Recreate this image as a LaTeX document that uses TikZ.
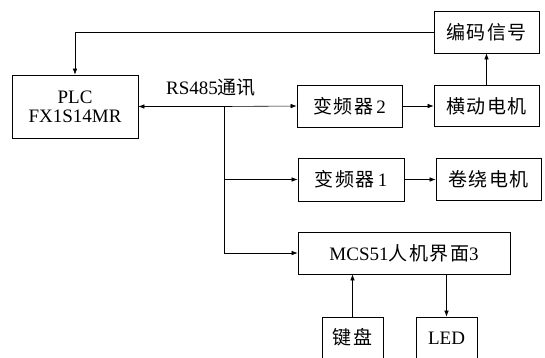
\documentclass[tikz,border=0pt]{standalone}
\usepackage{fontspec}
\setmainfont{Liberation Serif}
\newfontfamily\cjk{Noto Sans CJK SC}
\usetikzlibrary{arrows.meta}
\newcommand{\cg}{\hspace{1.5pt}}
\begin{document}
\begin{tikzpicture}[x=1pt,y=-1pt,
  box/.style={draw, line width=0.7pt, inner sep=0pt, align=center, font=\fontsize{19}{19}\selectfont},
  openbox/.style={box, minimum width=61pt, text height=27pt, text depth=30pt, anchor=base},
  conn/.style={line width=0.6pt},
  arr/.style={conn, -{Latex[length=6pt,width=4.5pt]}},
  lbl/.style={inner sep=0pt, font=\fontsize{19}{19}\selectfont}]
\path[use as bounding box, clip] (0,0) rectangle (545,357);
\fill[white] (0,0) rectangle (545,357);
% boxes
\node[box, minimum width=126pt, minimum height=63pt] (plc) at (75,106.5) {PLC\\FX1S14MR};
\node[box, minimum width=105pt, minimum height=42pt] (enc) at (486.5,32) {\cjk 编\cg 码\cg 信\cg 号};
\node[box, minimum width=105pt, minimum height=41pt] (hd) at (486.5,106) {\cjk 横\cg 动\cg 电\cg 机};
\node[box, minimum width=105pt, minimum height=42pt] (vf2) at (349.5,106) {{\cjk 变\cg 频\cg 器}\,2};
\node[box, minimum width=106pt, minimum height=43pt] (vf1) at (351,179.5) {{\cjk 变\cg 频\cg 器}\,1};
\node[box, minimum width=105pt, minimum height=42pt] (jr) at (488.5,179.5) {\cjk 卷\cg 绕\cg 电\cg 机};
\node[box, minimum width=212pt, minimum height=42pt] (mcs) at (404,253) {MCS51{\cjk 人\cg 机\cg 界\cg 面}3};
\node[openbox] (kb) at (352.5,344) {\cjk 键\cg 盘};
\node[openbox] (led) at (446.5,344) {LED};
% label
\node[lbl] (rs) at (211,88) {RS485{\cjk 通讯}};
% connectors
\coordinate (bus) at (224,106.5);
\coordinate (busend) at (224,253);
\draw[arr] (bus) -- (plc.east |- bus);
\draw[arr] (bus) -- (vf2.west);
\draw[conn] (bus) -- (busend);
\draw[arr] (bus |- vf1.west) -- (vf1.west);
\draw[arr] (busend) -- (mcs.west);
\draw[arr] (vf2.east) -- (hd.west);
\draw[arr] (vf1.east) -- (jr.west);
\draw[arr] (hd.north) -- (enc.south);
\draw[arr] (enc.west) -| (plc.north);
\draw[arr] (kb.north) -- (kb.north |- mcs.south);
\draw[arr] (mcs.south -| led.north) -- (led.north);
\end{tikzpicture}
\end{document}
